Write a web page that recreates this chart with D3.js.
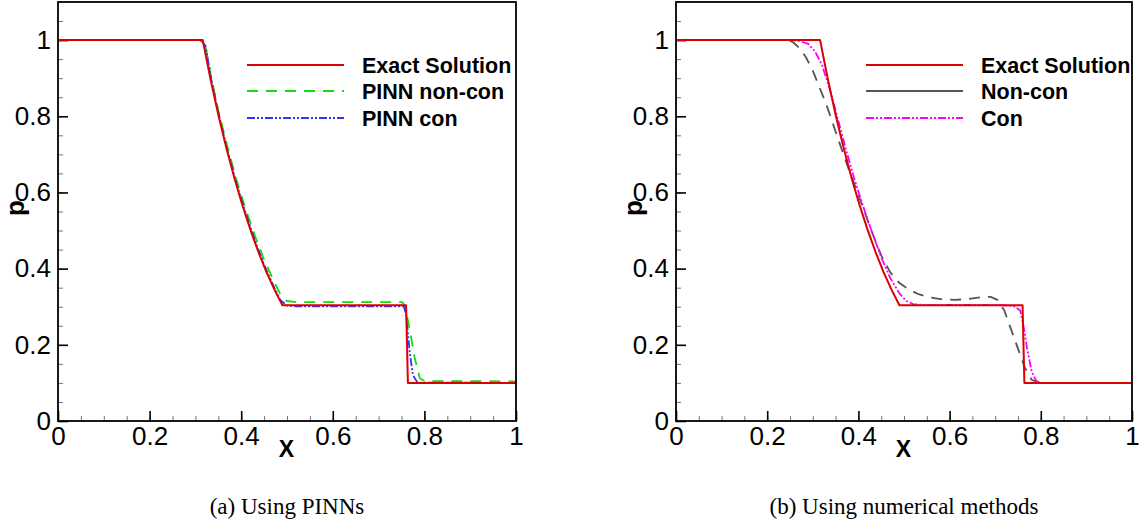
<!DOCTYPE html>
<html>
<head>
<meta charset="utf-8">
<script src="https://cdn.jsdelivr.net/npm/d3@7"></script>
<style>
  html, body { margin: 0; padding: 0; background: #fff; }
  svg { display: block; }
  .tick text { font-family: "Liberation Sans", Arial, sans-serif; }
</style>
</head>
<body>
<svg id="chart" width="1141" height="527"></svg>
<script>
// Sod shock tube pressure profiles, p(x)

// Exact solution (shared by both panels)
const exactX = [0, 0.316, 0.3334, 0.3508, 0.3682, 0.3856, 0.403, 0.4204, 0.4378, 0.4552, 0.4726, 0.490, 0.760, 0.764, 1];
const exactP = [1, 1, 0.895, 0.800, 0.714, 0.636, 0.565, 0.501, 0.443, 0.391, 0.345, 0.304, 0.304, 0.100, 0.100];

// PINN, non-conservative form
const pinnNonconX = [0, 0.31, 0.322, 0.335, 0.35, 0.37, 0.39, 0.41, 0.43, 0.45, 0.47, 0.485, 0.50, 0.52, 0.752, 0.758, 0.768, 0.778, 0.79, 0.80, 1];
const pinnNonconP = [1, 1, 0.985, 0.90, 0.815, 0.72, 0.632, 0.555, 0.486, 0.424, 0.37, 0.334, 0.315, 0.312, 0.312, 0.30, 0.24, 0.17, 0.112, 0.105, 0.104];

// PINN, conservative form
const pinnConX = [0, 0.312, 0.322, 0.335, 0.35, 0.37, 0.39, 0.41, 0.43, 0.45, 0.47, 0.485, 0.50, 0.52, 0.755, 0.76, 0.768, 0.775, 0.785, 1];
const pinnConP = [1, 1, 0.985, 0.895, 0.81, 0.71, 0.622, 0.545, 0.474, 0.41, 0.356, 0.318, 0.303, 0.301, 0.301, 0.28, 0.18, 0.12, 0.101, 0.1];

// Numerical scheme, non-conservative form
const numNonconX = [0, 0.24, 0.256, 0.27, 0.285, 0.30, 0.315, 0.33, 0.35, 0.37, 0.39, 0.41, 0.43, 0.45, 0.47, 0.49, 0.51, 0.53, 0.55, 0.58, 0.61, 0.64, 0.67, 0.69, 0.705, 0.72, 0.735, 0.75, 0.765, 0.78, 0.80, 1];
const numNonconP = [1, 1, 0.995, 0.98, 0.955, 0.92, 0.875, 0.83, 0.76, 0.69, 0.625, 0.56, 0.495, 0.435, 0.39, 0.362, 0.346, 0.334, 0.326, 0.32, 0.318, 0.32, 0.325, 0.326, 0.318, 0.29, 0.24, 0.19, 0.14, 0.108, 0.1, 0.1];

// Numerical scheme, conservative form
const numConX = [0, 0.25, 0.27, 0.29, 0.305, 0.32, 0.335, 0.35, 0.37, 0.39, 0.41, 0.43, 0.45, 0.47, 0.49, 0.505, 0.52, 0.55, 0.60, 0.65, 0.70, 0.74, 0.755, 0.762, 0.77, 0.78, 0.79, 0.80, 1];
const numConP = [1, 1, 0.998, 0.99, 0.97, 0.935, 0.88, 0.815, 0.725, 0.64, 0.565, 0.495, 0.43, 0.375, 0.335, 0.315, 0.307, 0.304, 0.305, 0.305, 0.305, 0.302, 0.29, 0.25, 0.19, 0.13, 0.105, 0.1, 0.1];

// Axis ticks
const xMajorTicks = [0, 0.2, 0.4, 0.6, 0.8, 1];
const xTickLabels = ["0", "0.2", "0.4", "0.6", "0.8", "1"];
const yMajorTicks = [0, 0.2, 0.4, 0.6, 0.8, 1];
const yTickLabels = ["0", "0.2", "0.4", "0.6", "0.8", "1"];
const minorTicks = d3.range(0, 22).map(i => +(i * 0.05).toFixed(2));

const svg = d3.select("#chart");

const zip = (xs, ys) => xs.map((x, i) => [x, ys[i]]);

function drawPanel(cfg) {
  const x = d3.scaleLinear().domain([0, 1]).range([cfg.left, cfg.right]);
  const y = d3.scaleLinear().domain([0, 1.1]).range([421, 2]);
  const g = svg.append("g");

  // minor ticks
  g.append("g")
    .attr("transform", `translate(0,${y(0)})`)
    .call(d3.axisBottom(x).tickValues(minorTicks.filter(v => v <= 1)).tickSize(-5).tickFormat(""))
    .call(a => a.select(".domain").remove())
    .call(a => a.selectAll("line").attr("stroke", "#777").attr("stroke-width", 1));
  g.append("g")
    .attr("transform", `translate(${x(0)},0)`)
    .call(d3.axisLeft(y).tickValues(minorTicks.filter(v => v <= 1.05)).tickSize(-5).tickFormat(""))
    .call(a => a.select(".domain").remove())
    .call(a => a.selectAll("line").attr("stroke", "#777").attr("stroke-width", 1));

  // major ticks + labels
  g.append("g")
    .attr("transform", `translate(0,${y(0)})`)
    .call(d3.axisBottom(x).tickValues(xMajorTicks).tickSize(-10).tickPadding(6)
      .tickFormat((d, i) => xTickLabels[i]))
    .call(a => a.select(".domain").remove())
    .call(a => a.selectAll("line").attr("stroke", "#000").attr("stroke-width", 1.6))
    .call(a => a.selectAll("text").attr("font-size", 26).attr("fill", "#000"));
  g.append("g")
    .attr("transform", `translate(${x(0)},0)`)
    .call(d3.axisLeft(y).tickValues(yMajorTicks).tickSize(-10).tickPadding(7)
      .tickFormat((d, i) => yTickLabels[i]))
    .call(a => a.select(".domain").remove())
    .call(a => a.selectAll("line").attr("stroke", "#000").attr("stroke-width", 1.6))
    .call(a => a.selectAll("text").attr("font-size", 26).attr("fill", "#000"));

  // curves
  const line = d3.line().x(d => x(d[0])).y(d => y(d[1]));
  cfg.series.forEach(s => {
    g.append("path")
      .datum(zip(s.xs, s.ys))
      .attr("d", line)
      .attr("fill", "none")
      .attr("stroke", s.color)
      .attr("stroke-width", s.width)
      .attr("stroke-dasharray", s.dash || null)
      .attr("stroke-linejoin", "round");
  });

  // frame
  g.append("rect")
    .attr("x", x(0)).attr("y", y(1.1))
    .attr("width", x(1) - x(0)).attr("height", y(0) - y(1.1))
    .attr("fill", "none").attr("stroke", "#000").attr("stroke-width", 1.8);

  // legend
  const lx = cfg.legendX;
  const rows = [65, 91, 118];
  cfg.series.slice().sort((a, b) => a.order - b.order).forEach((s, i) => {
    g.append("line")
      .attr("x1", lx).attr("x2", lx + 97)
      .attr("y1", rows[i]).attr("y2", rows[i])
      .attr("stroke", s.color).attr("stroke-width", s.width)
      .attr("stroke-dasharray", s.legendDash || null);
    g.append("text")
      .attr("x", lx + 115).attr("y", rows[i])
      .attr("dy", "0.36em")
      .attr("font-family", "Liberation Sans, Arial, sans-serif")
      .attr("font-weight", "bold").attr("font-size", 21.5)
      .text(s.name);
  });

  // axis titles
  g.append("text")
    .attr("x", (x(0) + x(1)) / 2 - 0.5).attr("y", 457)
    .attr("text-anchor", "middle")
    .attr("font-family", "Liberation Sans, Arial, sans-serif")
    .attr("font-weight", "bold").attr("font-size", 23)
    .text("X");
  g.append("text")
    .attr("transform", `translate(${x(0) - 34},208) rotate(-90)`)
    .attr("text-anchor", "middle")
    .attr("font-family", "Liberation Sans, Arial, sans-serif")
    .attr("font-weight", "bold").attr("font-size", 26)
    .text("p");

  // caption
  g.append("text")
    .attr("x", (x(0) + x(1)) / 2).attr("y", 514)
    .attr("text-anchor", "middle")
    .attr("font-family", "Liberation Serif, Times New Roman, serif")
    .attr("font-size", 23)
    .text(cfg.caption);
}

const dashDotDot = "8,2,2,2,2,2";

drawPanel({
  left: 58, right: 516, legendX: 247,
  caption: "(a) Using PINNs",
  series: [
    { name: "PINN non-con", xs: pinnNonconX, ys: pinnNonconP, color: "#11dd11", width: 1.8, dash: "11,8", legendDash: "11,8", order: 1 },
    { name: "PINN con", xs: pinnConX, ys: pinnConP, color: "#3333ff", width: 1.8, dash: dashDotDot, legendDash: dashDotDot, order: 2 },
    { name: "Exact Solution", xs: exactX, ys: exactP, color: "#dd0000", width: 2, order: 0 }
  ]
});

drawPanel({
  left: 676, right: 1132, legendX: 866,
  caption: "(b) Using numerical methods",
  series: [
    { name: "Non-con", xs: numNonconX, ys: numNonconP, color: "#555555", width: 1.8, dash: "11,8", legendDash: null, order: 1 },
    { name: "Con", xs: numConX, ys: numConP, color: "#ff00ff", width: 1.8, dash: dashDotDot, legendDash: dashDotDot, order: 2 },
    { name: "Exact Solution", xs: exactX, ys: exactP, color: "#dd0000", width: 2, order: 0 }
  ]
});
</script>
</body>
</html>
